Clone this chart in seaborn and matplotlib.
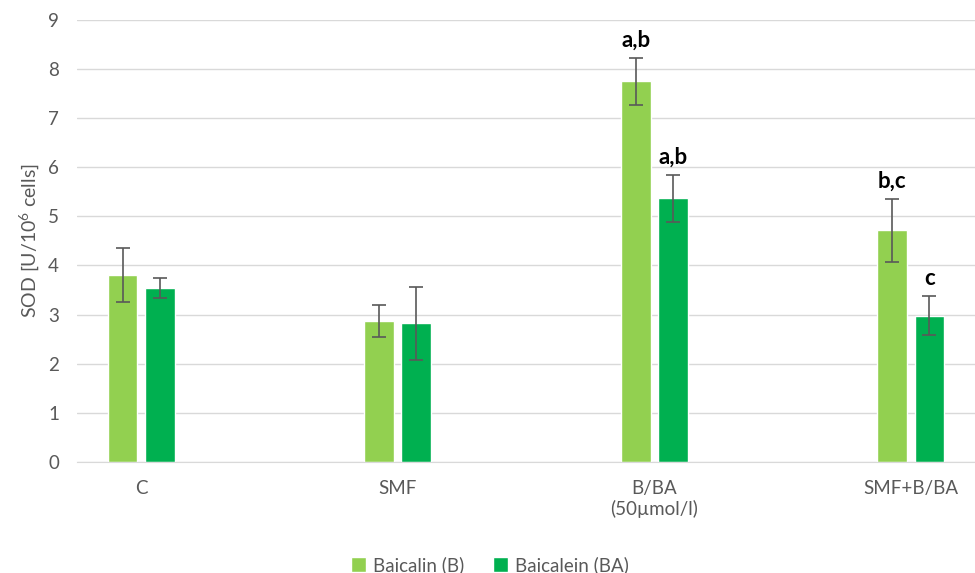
import numpy as np
import pandas as pd
import matplotlib
matplotlib.use("Agg")
import matplotlib.pyplot as plt
import seaborn as sns

groups = ["C", "SMF", "B/BA\n(50µmol/l)", "SMF+B/BA"]
series = ["Baicalin (B)", "Baicalein (BA)"]
baicalin = [3.80, 2.87, 7.75, 4.72]
baicalin_err = [0.55, 0.33, 0.48, 0.64]
baicalein = [3.54, 2.82, 5.37, 2.98]
baicalein_err = [0.21, 0.74, 0.48, 0.39]
baicalin_sig = ["", "", "a,b", "b,c"]
baicalein_sig = ["", "", "a,b", "c"]

colors = ["#92D050", "#00B050"]

df = pd.DataFrame({
    "group": groups * 2,
    "series": [series[0]] * 4 + [series[1]] * 4,
    "value": baicalin + baicalein,
})

sns.set_style("white")
plt.rcParams["font.family"] = ["Lato", "DejaVu Sans"]
plt.rcParams["mathtext.default"] = "regular"

fig = plt.figure(figsize=(9.75, 5.73), dpi=100)
ax = fig.add_axes([0.079, 0.194, 0.921, 0.771])

sns.barplot(data=df, x="group", y="value", hue="series", palette=colors,
            width=0.29, gap=0.2, errorbar=None, ax=ax, saturation=1)

errs = [baicalin_err, baicalein_err]
sigs = [baicalin_sig, baicalein_sig]
vals = [baicalin, baicalein]
bars = list(ax.containers)
for k, cont in enumerate(bars):
    xs = [p.get_x() + p.get_width() / 2 for p in cont]
    ax.errorbar(xs, vals[k], yerr=errs[k], fmt="none", ecolor="#595959",
                elinewidth=1.2, capsize=5, capthick=1.2, zorder=5)
    for x, v, e, s in zip(xs, vals[k], errs[k], sigs[k]):
        if s:
            ax.text(x, v + e + 0.15, s, ha="center", va="bottom",
                    fontsize=16, fontweight="bold", color="black")

ax.set_ylim(0, 9)
ax.set_yticks(range(0, 10))
ax.set_xlim(-0.25, 3.25)
ax.yaxis.grid(True, color="#D9D9D9", linewidth=1)
ax.set_axisbelow(True)
for side in ["left", "right", "top"]:
    ax.spines[side].set_visible(False)
ax.spines["bottom"].set_color("#D9D9D9")
ax.tick_params(axis="both", length=0, labelsize=13.5, colors="#595959")
ax.tick_params(axis="x", pad=13)
ax.tick_params(axis="y", pad=13)
ax.set_xlabel("")
ax.set_ylabel("SOD [U/10$^{6}$ cells]", fontsize=14, color="#595959", labelpad=5)

ax.legend(loc="upper center", bbox_to_anchor=(0.46, -0.175), ncol=2,
          frameon=False, fontsize=13.5, handlelength=0.8, handleheight=0.8,
          handletextpad=0.4, columnspacing=1.5, labelcolor="#595959")

fig.savefig("out.png", dpi=100)
